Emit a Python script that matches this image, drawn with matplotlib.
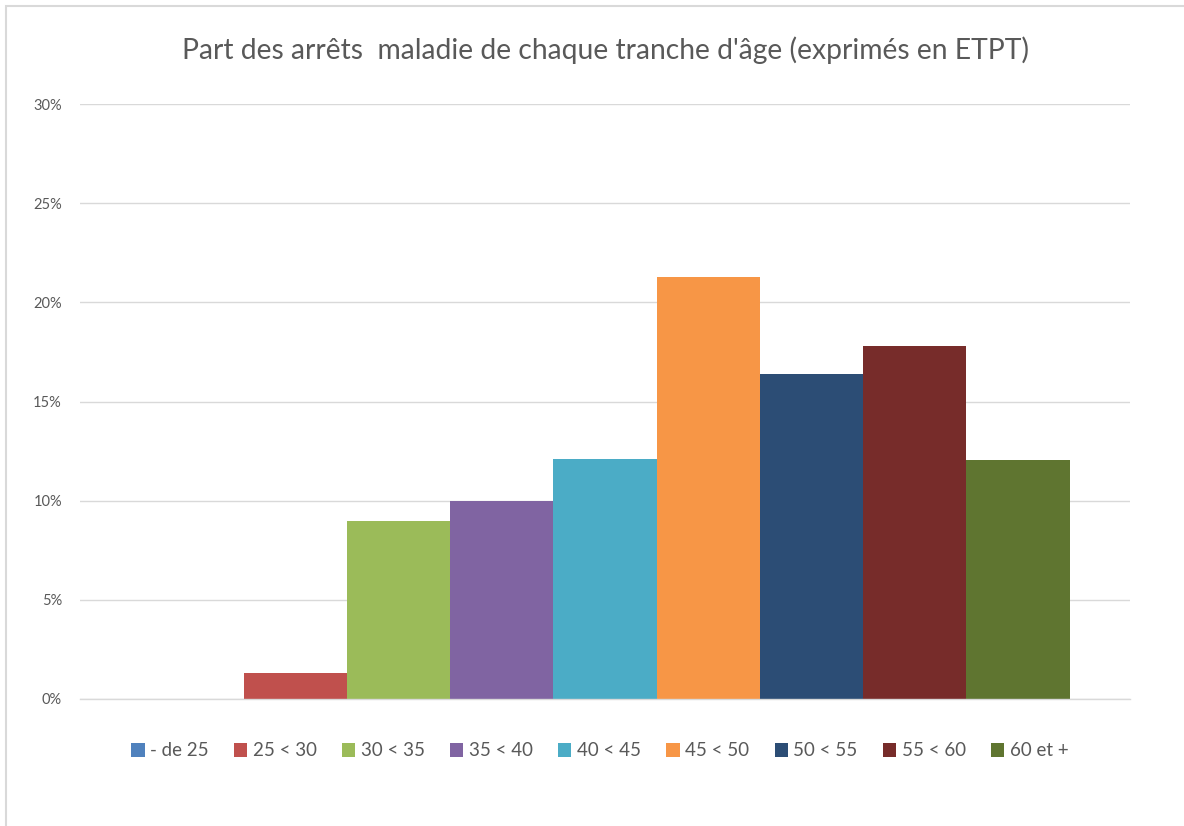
import matplotlib
matplotlib.use("Agg")
import matplotlib.pyplot as plt
from matplotlib.patches import Rectangle
from matplotlib.ticker import FuncFormatter, MultipleLocator

categories = ["- de 25", "25 < 30", "30 < 35", "35 < 40", "40 < 45",
              "45 < 50", "50 < 55", "55 < 60", "60 et +"]
values = [0.0, 1.3, 8.95, 9.98, 12.1, 21.3, 16.4, 17.8, 12.05]
colors = ["#4F81BD", "#C0504D", "#9BBB59", "#8064A2", "#4BACC6",
          "#F79646", "#2C4D75", "#772C2A", "#5F7530"]
title = "Part des arrêts  maladie de chaque tranche d'âge (exprimés en ETPT)"

plt.rcParams['font.family'] = ['Lato', 'DejaVu Sans']

fig = plt.figure(figsize=(11.84, 8.26), dpi=100)
fig.patches.append(Rectangle((6/1184, -0.01), 1.2, 1 - 6/826 + 0.01,
                             transform=fig.transFigure, fill=False,
                             edgecolor="#D9D9D9", linewidth=1.5))
ax = fig.add_axes([80/1184, 1 - 699/826, 1050/1184, 595/826])

handles = []
for i, (c, v, col) in enumerate(zip(categories, values, colors)):
    h = ax.bar(i, v, width=1.0, color=col, label=c, zorder=3)
    handles.append(h)

ax.set_xlim(-1.086, 9.086)
ax.set_ylim(0, 30)
ax.yaxis.set_major_locator(MultipleLocator(5))
ax.yaxis.set_major_formatter(FuncFormatter(lambda y, _: f"{int(round(y))}%"))
ax.grid(axis="y", color="#D9D9D9", linewidth=1, zorder=0)
ax.set_xticks([])
for s in ["top", "right", "left"]:
    ax.spines[s].set_visible(False)
ax.spines["bottom"].set_color("#D9D9D9")
ax.spines["bottom"].set_linewidth(1)
ax.spines["bottom"].set_zorder(4)
ax.tick_params(axis="y", length=0, pad=13, labelsize=10.5, labelcolor="#595959")

fig.text(605/1184, 1 - 50/826, title, ha="center", va="center",
         fontsize=20.3, color="#595959")

fig.legend(handles=handles, labels=categories, loc="center",
           bbox_to_anchor=(600/1184, 1 - 751/826), ncol=9, frameon=False,
           fontsize=13.5, labelcolor="#595959", handlelength=0.7,
           handleheight=0.7, handletextpad=0.3, columnspacing=1.35)

fig.savefig("out.png", dpi=100, facecolor="white")
